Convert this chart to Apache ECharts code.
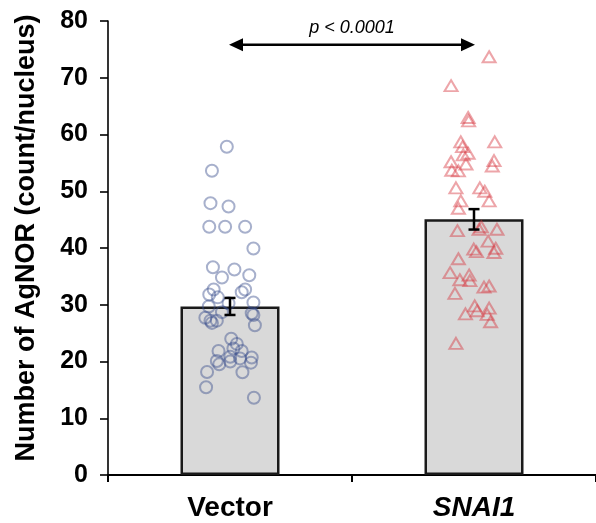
<!DOCTYPE html>
<html>
<head>
<meta charset="utf-8">
<script src="https://cdn.jsdelivr.net/npm/echarts@6/dist/echarts.min.js"></script>
<style>html,body{margin:0;padding:0;background:#fff}#c{width:596px;height:523px}</style>
</head>
<body>
<div id="c"></div>
<script>
// ---- data ----
const categories = ['Vector', 'SNAI1'];
const barMeans = [29.7, 45.05];
const barSEM = [1.5, 1.8];
const yTicks = [0, 10, 20, 30, 40, 50, 60, 70, 80];
const pLabel = 'p < 0.0001';
const arrowY = 75.8;

// individual nuclei: value and horizontal jitter (in category units)
const vectorValues = [57.85, 53.6, 47.9, 47.3, 43.75, 43.75, 43.75, 39.9, 36.6, 36.2, 34.8, 35.2, 32.7, 31.8, 31.3, 32.7, 32.2, 30.25, 30.4, 29.7, 28.7, 28.5, 28.2, 27.7, 27.2, 27.2, 26.8, 26.4, 24.0, 23.1, 22.3, 21.85, 21.85, 20.85, 20.55, 20.7, 20.1, 19.5, 20.0, 19.8, 18.1, 18.15, 15.45, 13.6];
const vectorJitter = [-0.013, -0.074, -0.080, -0.006, -0.085, -0.020, 0.062, 0.096, -0.070, 0.018, -0.033, 0.079, -0.067, -0.085, -0.050, 0.062, 0.048, -0.006, 0.096, -0.087, -0.033, 0.089, 0.096, -0.101, -0.080, -0.054, -0.074, 0.102, 0.005, 0.028, 0.014, 0.048, -0.047, 0.001, 0.041, 0.089, -0.054, -0.044, 0.001, 0.086, 0.051, -0.094, -0.098, 0.098];
const snaiValues = [73.7, 68.6, 63.0, 62.4, 58.7, 58.7, 57.85, 56.7, 56.4, 55.4, 55.2, 54.8, 54.45, 53.7, 53.6, 50.6, 50.6, 50.0, 48.3, 48.3, 47.0, 43.75, 43.05, 43.3, 43.3, 41.2, 39.8, 39.35, 39.95, 39.2, 38.1, 35.65, 35.25, 34.4, 34.25, 33.3, 33.1, 32.0, 29.8, 28.4, 28.95, 29.4, 28.3, 27.0, 23.2];
const snaiJitter = [0.062, -0.094, -0.024, -0.022, -0.054, 0.085, -0.047, -0.024, -0.044, 0.082, -0.094, -0.033, 0.075, -0.091, -0.064, -0.074, 0.024, 0.044, -0.054, 0.062, -0.064, 0.030, -0.068, 0.094, 0.021, 0.058, -0.001, 0.010, 0.089, 0.082, -0.064, -0.098, -0.020, -0.058, -0.017, 0.062, 0.041, -0.078, 0.003, -0.035, 0.013, 0.062, 0.054, 0.068, -0.074];

// ---- chart ----
const FONT = 'Arial, "Liberation Sans", sans-serif';
const chart = echarts.init(document.getElementById('c'), null, {renderer: 'canvas'});
const vecPts = vectorValues.map((v, i) => [0 + vectorJitter[i], v]);
const snaiPts = snaiValues.map((v, i) => [1 + snaiJitter[i], v]);

chart.setOption({
  animation: false,
  grid: {left: 108, top: 21, right: -4, bottom: 48, containLabel: false},
  xAxis: [{
    type: 'category', data: categories,
    axisLine: {onZero: false, lineStyle: {color: '#000', width: 2}},
    axisTick: {show: true, length: 7, lineStyle: {color: '#000', width: 2}},
    axisLabel: {
      margin: 19, color: '#000', fontFamily: FONT, fontSize: 28, fontWeight: 'bold',
      formatter: v => v === 'SNAI1' ? '{i|' + v + '}' : v,
      rich: {i: {fontStyle: 'italic', fontWeight: 'bold', fontSize: 28, fontFamily: FONT, color: '#000'}}
    }
  }, {
    type: 'value', min: -0.5, max: 1.5, show: false
  }],
  yAxis: {
    type: 'value', min: yTicks[0], max: yTicks[yTicks.length - 1], interval: 10,
    name: 'Number of AgNOR (count/nucleus)', nameLocation: 'middle', nameGap: 68,
    nameTextStyle: {fontFamily: FONT, fontSize: 27, fontWeight: 'bold', color: '#000', padding: [0, 0, 0, 20]},
    axisLine: {show: true, onZero: false, lineStyle: {color: '#000', width: 1.6}},
    axisTick: {show: true, length: 8, lineStyle: {color: '#000', width: 1.6}},
    splitLine: {show: false},
    axisLabel: {margin: 20, color: '#000', fontFamily: FONT, fontSize: 25, fontWeight: 'bold'}
  },
  series: [{
    type: 'bar', data: barMeans, barWidth: 99, z: 1,
    itemStyle: {color: '#d9d9d9', borderColor: '#1a1a1a', borderWidth: 2.5}
  }, {
    type: 'scatter', xAxisIndex: 1, data: vecPts, symbol: 'circle', symbolSize: 12, z: 3,
    itemStyle: {color: 'rgba(0,0,0,0)', borderColor: 'rgba(55,75,140,0.55)', borderWidth: 2}
  }, {
    type: 'scatter', xAxisIndex: 1, data: snaiPts, symbol: 'triangle', symbolSize: [13, 11], z: 3,
    itemStyle: {color: 'rgba(0,0,0,0)', borderColor: 'rgba(215,50,60,0.55)', borderWidth: 2}
  }, {
    type: 'custom', z: 5,
    data: barMeans.map((m, i) => [i, m - barSEM[i], m + barSEM[i]]),
    renderItem: function (params, api) {
      const lo = api.coord([api.value(0), api.value(1)]);
      const hi = api.coord([api.value(0), api.value(2)]);
      const w = 5.5;
      const st = {stroke: '#000', lineWidth: 2.5};
      return {type: 'group', children: [
        {type: 'line', shape: {x1: lo[0], y1: lo[1], x2: hi[0], y2: hi[1]}, style: st},
        {type: 'line', shape: {x1: lo[0] - w, y1: lo[1], x2: lo[0] + w, y2: lo[1]}, style: st},
        {type: 'line', shape: {x1: hi[0] - w, y1: hi[1], x2: hi[0] + w, y2: hi[1]}, style: st}
      ]};
    }
  }, {
    // significance arrow between the two groups
    type: 'custom', z: 6,
    data: [[0, 1, arrowY]],
    renderItem: function (params, api) {
      const a = api.coord([api.value(0), api.value(2)]);
      const b = api.coord([api.value(1), api.value(2)]);
      const L = 14, H = 6.5;
      return {type: 'group', children: [
        {type: 'line', shape: {x1: a[0] + 4, y1: a[1], x2: b[0] - 4, y2: b[1]}, style: {stroke: '#000', lineWidth: 2.5}},
        {type: 'polygon', shape: {points: [[a[0] - 1, a[1]], [a[0] - 1 + L, a[1] - H], [a[0] - 1 + L, a[1] + H]]}, style: {fill: '#000'}},
        {type: 'polygon', shape: {points: [[b[0] + 1, b[1]], [b[0] + 1 - L, b[1] - H], [b[0] + 1 - L, b[1] + H]]}, style: {fill: '#000'}},
        {type: 'text', style: {x: (a[0] + b[0]) / 2, y: a[1] - 8, text: pLabel, align: 'center', verticalAlign: 'bottom',
          fontFamily: FONT, fontSize: 18, fontStyle: 'italic', fill: '#000'}}
      ]};
    }
  }]
});
</script>
</body>
</html>
